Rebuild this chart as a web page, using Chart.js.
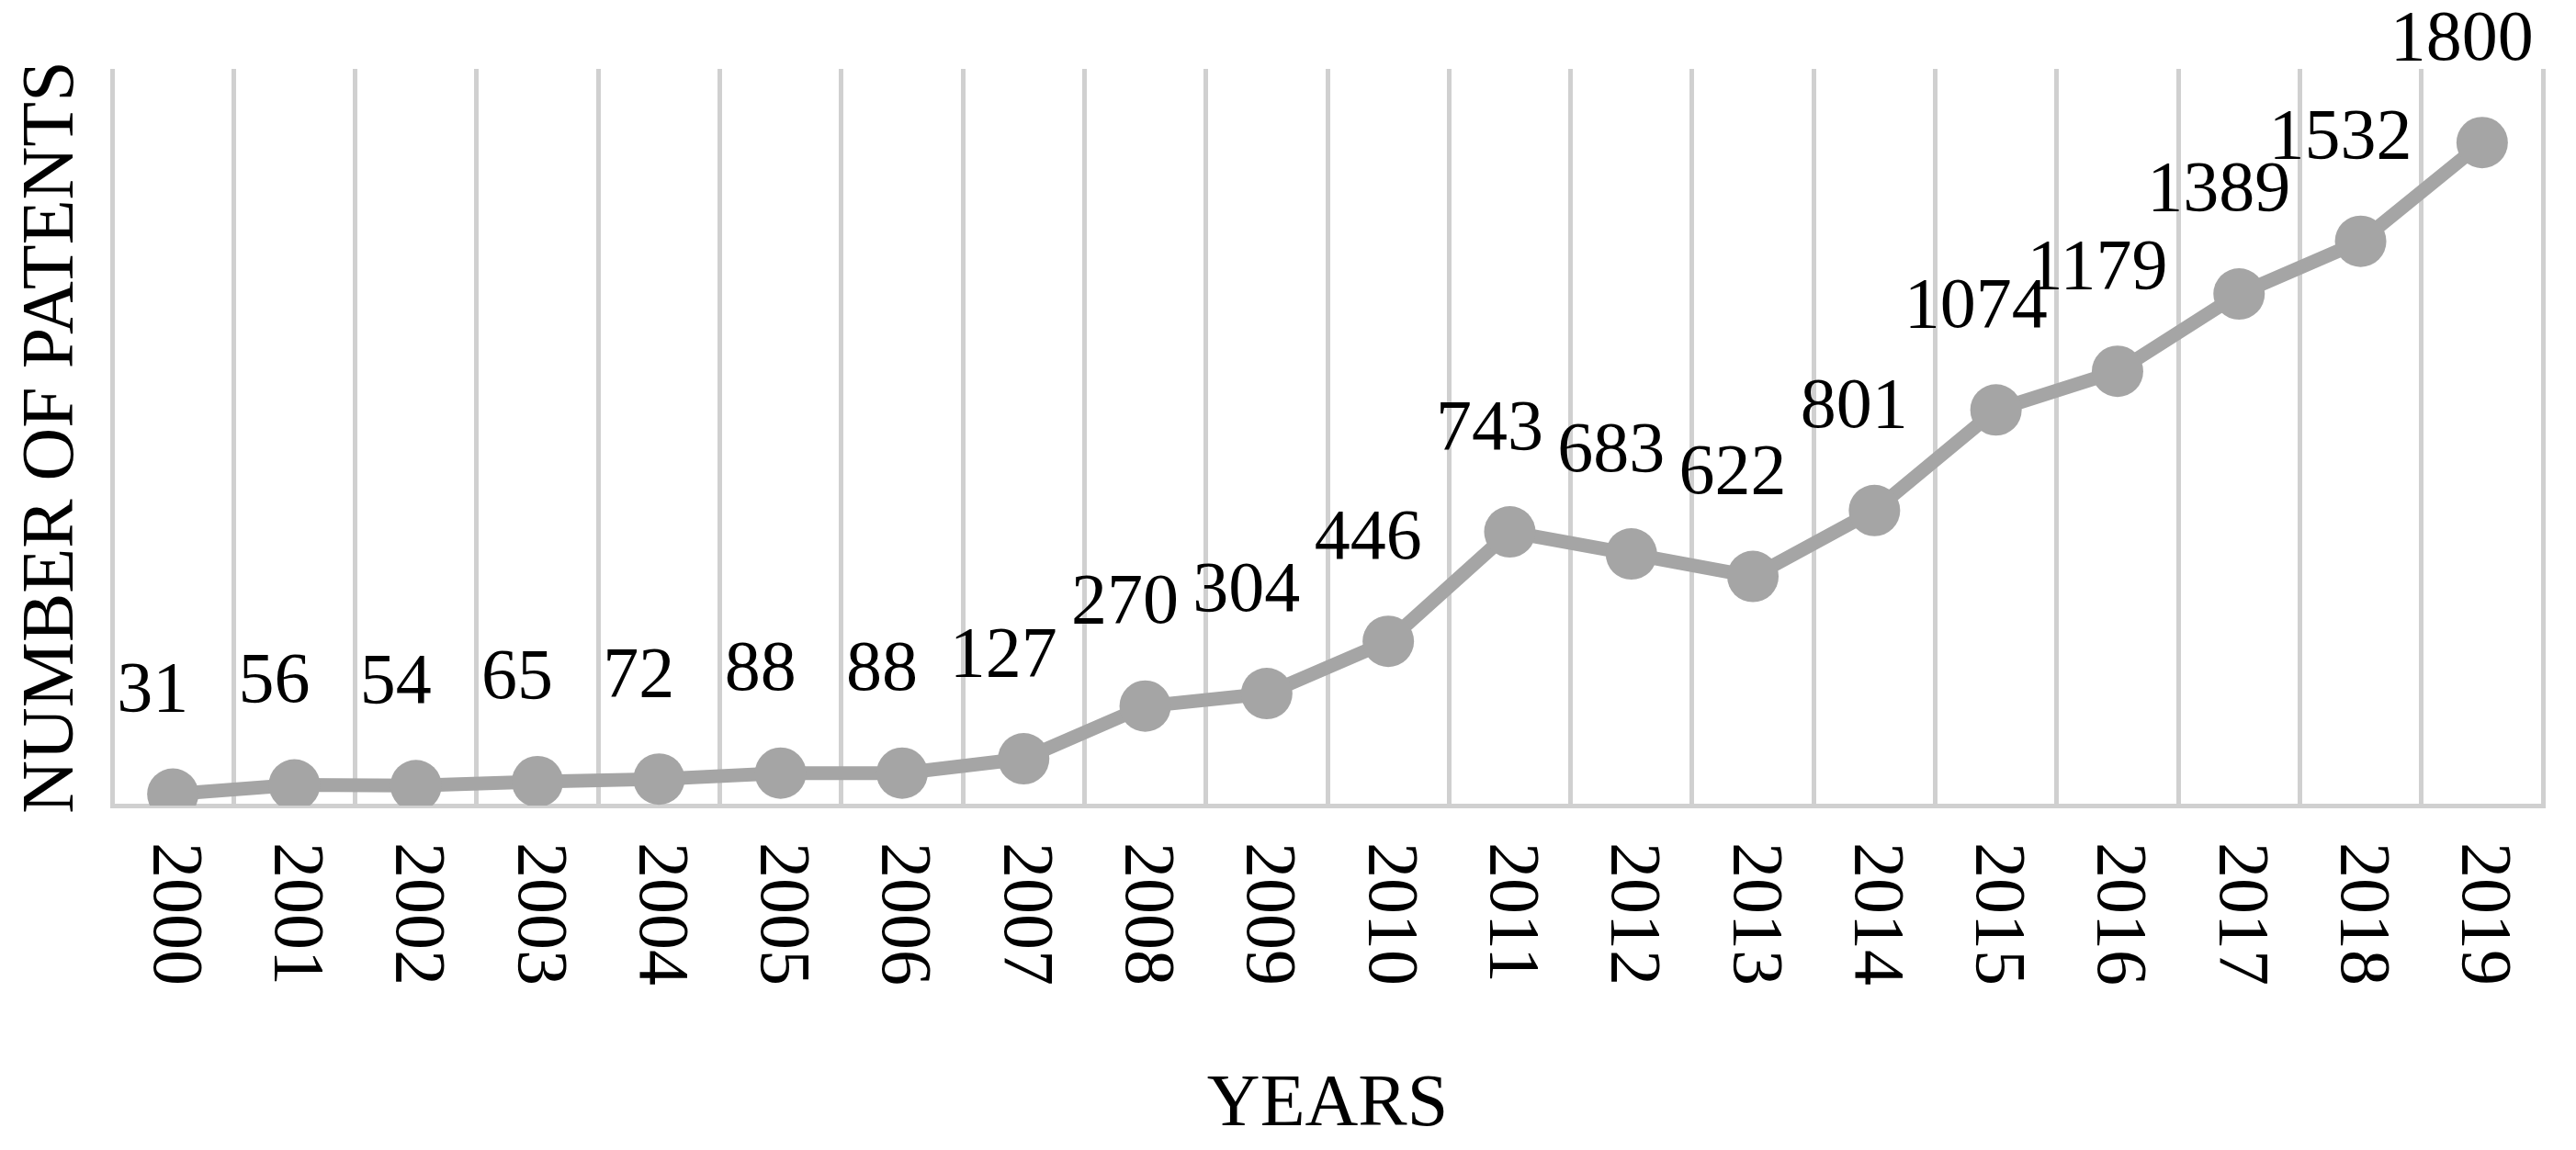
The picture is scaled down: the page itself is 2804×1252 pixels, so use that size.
<!DOCTYPE html>
<html>
<head>
<meta charset="utf-8">
<script src="https://cdn.jsdelivr.net/npm/chart.js@4/dist/chart.umd.min.js"></script>
<style>
  html, body { margin: 0; padding: 0; background: #fff; }
  #wrap { width: 2804px; height: 1252px; }
</style>
</head>
<body>
<div id="wrap"><canvas id="c"></canvas></div>
<script>
const years = ['2000','2001','2002','2003','2004','2005','2006','2007','2008','2009',
               '2010','2011','2012','2013','2014','2015','2016','2017','2018','2019'];
const patents = [31, 56, 54, 65, 72, 88, 88, 127, 270, 304,
                 446, 743, 683, 622, 801, 1074, 1179, 1389, 1532, 1800];

const serif = '"Liberation Serif", "DejaVu Serif", serif';

const labelsPlugin = {
    id: 'labels',
    afterDatasetsDraw(chart) {
        const ctx = chart.ctx;
        const meta = chart.getDatasetMeta(0);
        ctx.save();
        ctx.fillStyle = '#000';
        ctx.font = '78px ' + serif;
        ctx.textAlign = 'center';
        ctx.textBaseline = 'bottom';
        meta.data.forEach((pt, i) => {
            ctx.fillText(String(patents[i]), pt.x - 22, pt.y - 72);
        });
        // rotated x tick labels, reading top to bottom
        const x = chart.scales.x;
        ctx.textAlign = 'left';
        ctx.textBaseline = 'middle';
        years.forEach((y, i) => {
            ctx.save();
            ctx.translate(x.getPixelForTick(i), x.top + 40);
            ctx.rotate(Math.PI / 2);
            ctx.fillText(y, 0, 0);
            ctx.restore();
        });
        ctx.restore();
    }
};

new Chart(document.getElementById('c'), {
    type: 'line',
    data: {
        labels: years,
        datasets: [{
            data: patents,
            borderColor: '#A5A5A5',
            backgroundColor: '#A5A5A5',
            borderWidth: 15,
            pointRadius: 28,
            pointHoverRadius: 28,
            pointBorderWidth: 0,
            tension: 0
        }]
    },
    options: {
        responsive: true,
        maintainAspectRatio: false,
        animation: false,
        layout: { padding: { top: 75, right: 36, left: 10, bottom: 0 } },
        plugins: { legend: { display: false }, tooltip: { enabled: false } },
        scales: {
            x: {
                offset: true,
                grid: { offset: true, color: '#D0D0D0', lineWidth: 5, drawTicks: false },
                border: { color: '#D0D0D0', width: 5 },
                ticks: { display: false },
                title: {
                    display: true, text: 'YEARS', color: '#000',
                    font: { family: serif, size: 80 }, padding: { top: 0, bottom: 0 }
                },
                afterFit(s) { s.height = 375; }
            },
            y: {
                min: 0, max: 2000,
                grid: { display: false },
                border: { display: false },
                ticks: { display: false },
                title: {
                    display: true, text: 'NUMBER OF PATENTS', color: '#000',
                    font: { family: serif, size: 80 }, padding: 0
                },
                afterFit(s) { s.width = 112; }
            }
        }
    },
    plugins: [labelsPlugin]
});
</script>
</body>
</html>
